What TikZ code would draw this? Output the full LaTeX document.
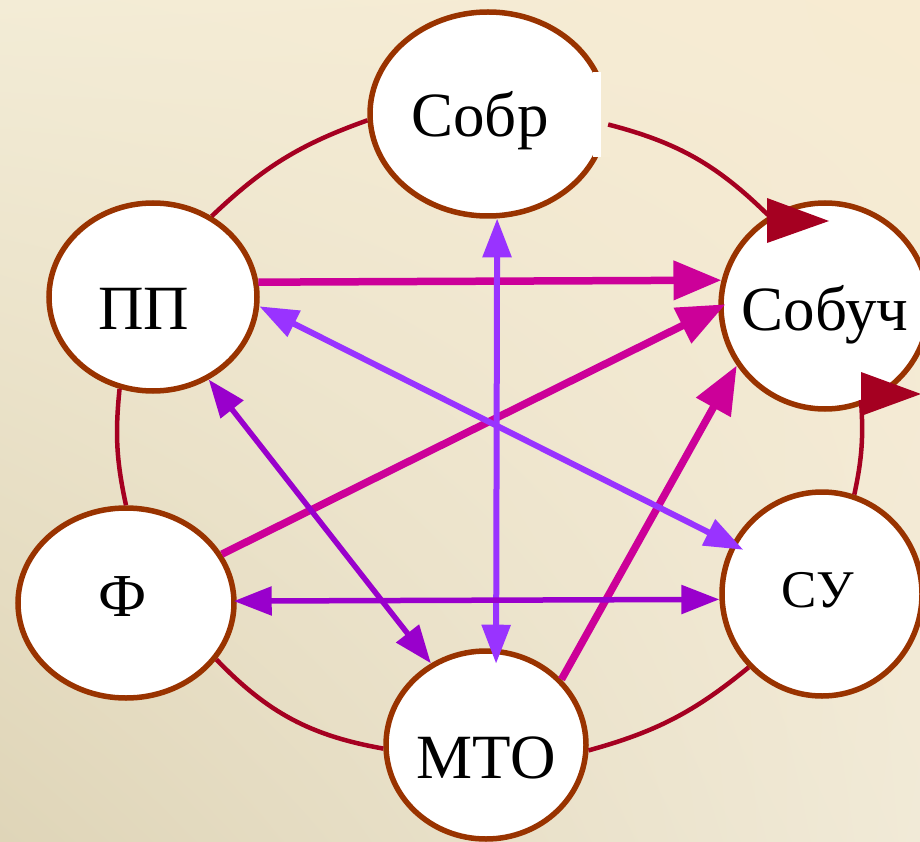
\documentclass[tikz,border=0pt]{standalone}
\usepackage{fontspec}
\setmainfont{Liberation Serif}
\usetikzlibrary{arrows.meta,shapes.geometric,shadings}
\definecolor{bord}{HTML}{993300}
\definecolor{arcred}{HTML}{A50021}
\definecolor{mag}{HTML}{CC0099}
\definecolor{vio}{HTML}{9933FF}
\definecolor{pur}{HTML}{9900CC}
\definecolor{bgUL}{HTML}{F3ECD6}
\definecolor{bgUR}{HTML}{F7EBD2}
\definecolor{bgLL}{HTML}{DFD5B8}
\definecolor{bgLR}{HTML}{F1EAD7}
\definecolor{bgpatch}{HTML}{F5EBD3}
\begin{document}
\begin{tikzpicture}[x=1pt,y=-1pt,
  ell/.style={ellipse, draw=bord, fill=white, line width=5.5pt, inner sep=0pt},
  lbl/.style={anchor=base, inner sep=0pt, text=black},
  big/.style={font=\fontsize{63}{63}\selectfont},
  ring/.style={draw=arcred, line width=4.5pt},
  magc/.style={draw=mag, line width=7.5pt, -{Triangle[length=48pt,width=38pt]}},
  vioc/.style={draw=vio, line width=6pt, {Triangle[length=39pt,width=28pt]}-{Triangle[length=39pt,width=28pt]}},
  purc/.style={draw=pur, line width=5.5pt, {Triangle[length=38pt,width=28pt]}-{Triangle[length=38pt,width=28pt]}}
]
\shade[upper left=bgUL, upper right=bgUR, lower left=bgLL, lower right=bgLR] (0,0) rectangle (920,842);
\useasboundingbox (0,0) rectangle (920,842);

% nodes
\node[ell, minimum width=236pt, minimum height=204pt] (sobr) at (488,114) {};
\node[ell, minimum width=208pt, minimum height=188pt] (pp) at (153,297) {};
\node[ell, minimum width=208pt, minimum height=206pt] (sobuch) at (825,306) {};
\node[ell, minimum width=216pt, minimum height=190pt] (f) at (126,603) {};
\node[ell, minimum width=200pt, minimum height=204pt] (su) at (822,594) {};
\node[ell, minimum width=200pt, minimum height=188pt] (mto) at (486,745) {};

% artifact on the right of Sobr
\fill[white] (593,72) rectangle (601,157);
\fill[bgpatch] (601,72) rectangle (609.5,157);

% labels
\node[lbl, big] (sobrT) at (480,137) {Собр};
\node[lbl, big] (ppT) at (144,329) {ПП};
\node[lbl, big] (sobuchT) at (825,330) {Собуч};
\node[lbl, font=\fontsize{61}{61}\selectfont] (fT) at (123,616) {Ф};
\node[lbl, font=\fontsize{53}{53}\selectfont] (suT) at (818,607) {СУ};
\node[lbl, big] (mtoT) at (486,778) {МТО};

% outer ring arcs
\coordinate (a1) at (768,215);
\coordinate (a1tip) at (829,221);
\coordinate (a2) at (861,400);
\coordinate (a2tip) at (921,394);
\draw[ring] (pp.54) to[bend left=12] (sobr.183.8);
\draw[ring] (sobr.-5) to[bend left=15] (a1);
\fill[arcred] (a1tip) -- ++(-62,-23) -- ++(0,45) -- cycle;
\draw[ring] (su.72.7) to[bend right=8] (a2);
\fill[arcred] (a2tip) -- ++(-60,-22) -- ++(0,44) -- cycle;
\draw[ring] (su.225.4) to[bend left=12] (mto.-3.3);
\draw[ring] (mto.182.2) to[bend left=18] (f.-32.7);
\draw[ring] (f.90) to[bend left=9] (pp.250.3);

% straight connectors
\draw[magc] (pp.8.3) -- (sobuch.166.9);
\draw[magc, shorten >=-8pt] (f.27.3) -- (sobuch.181);
\draw[magc] (mto.41.3) -- (sobuch.214.3);
\draw[vioc, shorten >=-15pt] (sobr.-85.6) -- (mto.84);
\draw[vioc, shorten >=-13pt] (pp.-5.2) -- (su.151.4);
\draw[purc] (pp.-56) -- (mto.124);
\draw[purc, shorten <=-3pt] (f.1) -- (su.183.9);
\end{tikzpicture}
\end{document}
